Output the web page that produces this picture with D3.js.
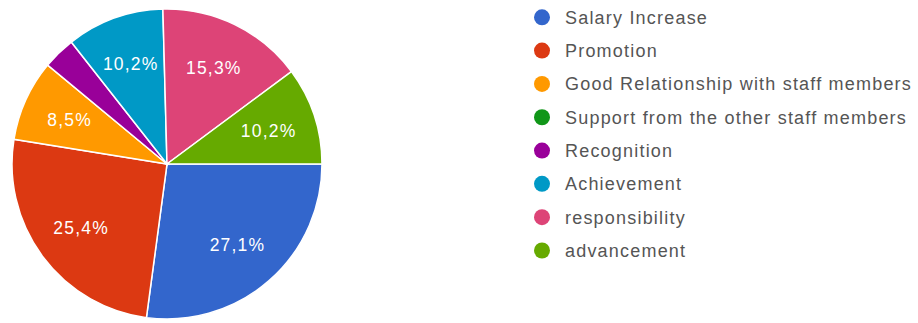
<!DOCTYPE html>
<html>
<head>
<meta charset="utf-8">
<script src="https://cdn.jsdelivr.net/npm/d3@7"></script>
<style>
  html, body { margin: 0; padding: 0; background: #ffffff; }
  svg { display: block; }
  text { font-family: "Liberation Sans", Arial, sans-serif; }
</style>
</head>
<body>
<svg id="chart" width="918" height="323"></svg>
<script>
// Survey answers: number of respondents for each motivating factor
const categories = [
  "Salary Increase",
  "Promotion",
  "Good Relationship with staff members",
  "Support from the other staff members",
  "Recognition",
  "Achievement",
  "responsibility",
  "advancement"
];
const counts = [16, 15, 5, 0, 2, 6, 9, 6];
const colors = ["#3366cc", "#dc3912", "#ff9900", "#109618", "#990099", "#0099c6", "#dd4477", "#66aa00"];

const total = d3.sum(counts);
const data = categories.map((name, i) => ({ name, value: counts[i], color: colors[i] }));

const svg = d3.select("#chart");
const cx = 167, cy = 164, radius = 155;

const pie = d3.pie()
  .value(d => d.value)
  .sort(null)
  .startAngle(Math.PI / 2)
  .endAngle(Math.PI / 2 + 2 * Math.PI);

const arc = d3.arc().innerRadius(0).outerRadius(radius);
const labelArc = d3.arc().innerRadius(107).outerRadius(107);

const g = svg.append("g").attr("transform", `translate(${cx},${cy})`);
const arcs = pie(data).filter(d => d.data.value > 0);

g.selectAll("path.slice")
  .data(arcs)
  .join("path")
  .attr("class", "slice")
  .attr("d", arc)
  .attr("fill", d => d.data.color)
  .attr("stroke", "#ffffff")
  .attr("stroke-width", 1.5);

const fmt = v => (v * 100).toFixed(1).replace(".", ",") + "%";

g.selectAll("text.pct")
  .data(arcs.filter(d => d.data.value / total >= 0.05))
  .join("text")
  .attr("class", "pct")
  .attr("transform", d => `translate(${labelArc.centroid(d)})`)
  .attr("text-anchor", "middle")
  .attr("dy", "0.36em")
  .attr("fill", "#ffffff")
  .attr("font-size", 17.5)
  .attr("letter-spacing", 1.2)
  .text(d => fmt(d.data.value / total));

// Legend
const legendY = d3.scalePoint()
  .domain(categories)
  .range([17.3, 250.5]);

const legend = svg.append("g");
const items = legend.selectAll("g.item")
  .data(data)
  .join("g")
  .attr("class", "item")
  .attr("transform", d => `translate(542,${legendY(d.name)})`);

items.append("circle")
  .attr("r", 8)
  .attr("fill", d => d.color);

items.append("text")
  .attr("x", 23)
  .attr("dy", "0.36em")
  .attr("fill", "#555555")
  .attr("font-size", 18)
  .attr("letter-spacing", 1.2)
  .text(d => d.name);
</script>
</body>
</html>
